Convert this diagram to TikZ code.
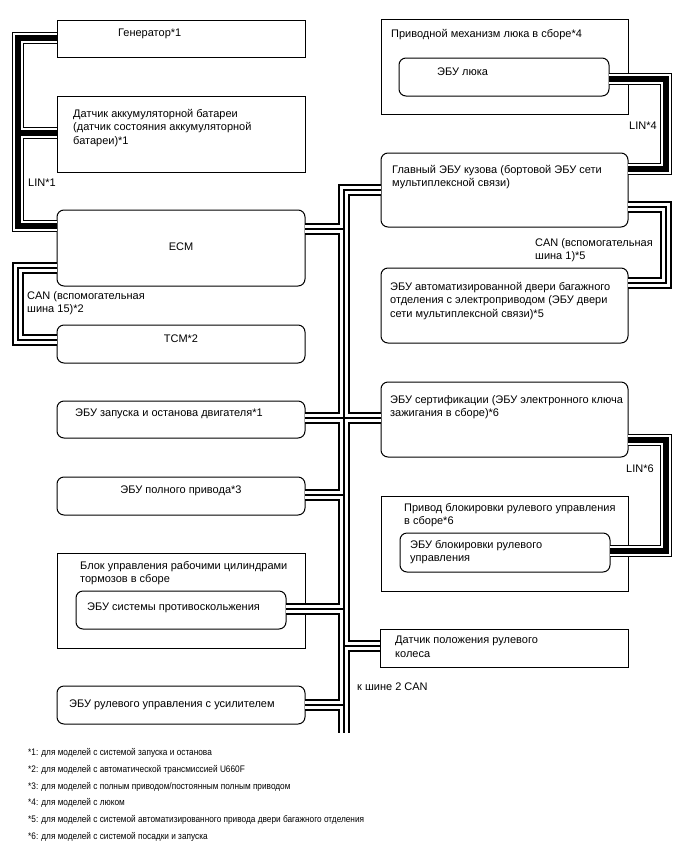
\documentclass[tikz,border=0pt]{standalone}
\usepackage{fontspec}
\setmainfont{Liberation Sans}
\newfontfamily\notefont[FakeStretch=0.87]{Liberation Sans}
\usetikzlibrary{positioning}

\tikzset{
  frame/.style={draw, line width=1pt, inner sep=0pt, outer sep=0pt,
                anchor=north west},
  unit/.style={frame, rounded corners=7pt},
  txt/.style={inner sep=0pt, align=left, anchor=north west,
              font=\fontsize{11}{13.5}\selectfont},
  can/.style={line width=12.5pt, line join=miter,
              postaction={draw=white, line width=8pt},
              postaction={draw=black, line width=1.3pt}},
  lin/.style={line width=12.5pt, line join=miter,
              postaction={draw=white, line width=10pt},
              postaction={draw=black, line width=6pt}}
}

\begin{document}
\begin{tikzpicture}[x=1pt, y=-1pt]
\useasboundingbox (0,0) rectangle (688,852);

% left column
\node[frame, minimum width=248pt, minimum height=37pt] (gen) at (57,20) {};
\node[txt, below right=9pt and 61pt of gen.north west] (gentxt) {Генератор*1};
\node[frame, minimum width=248pt, minimum height=76pt] (sensor) at (57,96) {};
\node[txt, below right=13pt and 16pt of sensor.north west] (sensortxt)
  {Датчик аккумуляторной батареи\\(датчик состояния аккумуляторной\\батареи)*1};
\node[unit, minimum width=248pt, minimum height=76pt] (ecm) at (57,210) {};
\node[txt, anchor=north, below=33pt of ecm.north] (ecmtxt) {ECM};
\node[unit, minimum width=248pt, minimum height=38pt] (tcm) at (57,325) {};
\node[txt, anchor=north, below=10pt of tcm.north] (tcmtxt) {TCM*2};
\node[unit, minimum width=248pt, minimum height=37pt] (stop) at (57,401) {};
\node[txt, below right=8pt and 18pt of stop.north west] (stoptxt)
  {ЭБУ запуска и останова двигателя*1};
\node[unit, minimum width=248pt, minimum height=38pt] (awd) at (57,477) {};
\node[txt, anchor=north, below=9pt of awd.north] (awdtxt) {ЭБУ полного привода*3};
\node[frame, minimum width=248pt, minimum height=95pt] (brake) at (57,553) {};
\node[txt, below right=8pt and 23pt of brake.north west] (braketxt)
  {Блок управления рабочими цилиндрами\\тормозов в сборе};
\node[unit, minimum width=210pt, minimum height=38pt] (vsc) at (76,591) {};
\node[txt, below right=12pt and 11pt of vsc.north west] (vsctxt)
  {ЭБУ системы противоскольжения};
\node[unit, minimum width=248pt, minimum height=38pt] (eps) at (57,686) {};
\node[txt, below right=14pt and 12pt of eps.north west] (epstxt)
  {ЭБУ рулевого управления с усилителем};

% right column
\node[frame, minimum width=247pt, minimum height=95pt] (roofassy) at (381,19) {};
\node[txt, below right=10pt and 10pt of roofassy.north west] (roofassytxt)
  {Приводной механизм люка в сборе*4};
\node[unit, minimum width=210pt, minimum height=38pt] (roof) at (399,58) {};
\node[txt, below right=10pt and 38pt of roof.north west] (rooftxt) {ЭБУ люка};
\node[unit, minimum width=247pt, minimum height=74pt] (mainbody) at (381,153) {};
\node[txt, below right=12pt and 11pt of mainbody.north west] (mainbodytxt)
  {Главный ЭБУ кузова (бортовой ЭБУ сети\\мультиплексной связи)};
\node[unit, minimum width=247pt, minimum height=75pt] (door) at (381,268) {};
\node[txt, below right=14pt and 9pt of door.north west] (doortxt)
  {ЭБУ автоматизированной двери багажного\\отделения с электроприводом (ЭБУ двери\\сети мультиплексной связи)*5};
\node[unit, minimum width=247pt, minimum height=75pt] (cert) at (381,382) {};
\node[txt, below right=13pt and 9pt of cert.north west] (certtxt)
  {ЭБУ сертификации (ЭБУ электронного ключа\\зажигания в сборе)*6};
\node[frame, minimum width=247pt, minimum height=95pt] (lockassy) at (381,496) {};
\node[txt, below right=7pt and 23pt of lockassy.north west] (lockassytxt)
  {Привод блокировки рулевого управления\\в сборе*6};
\node[unit, minimum width=210pt, minimum height=39pt] (lock) at (400,533) {};
\node[txt, below right=7pt and 10pt of lock.north west] (locktxt)
  {ЭБУ блокировки рулевого\\управления};
\node[frame, minimum width=248pt, minimum height=38pt] (angle) at (380,629) {};
\node[txt, below right=7pt and 15pt of angle.north west] (angletxt)
  {Датчик положения рулевого\\колеса};

% bus labels
\node[txt] (lin1) at (28,179) {LIN*1};
\node[txt] (can15) at (27,291) {CAN (вспомогательная\\шина 15)*2};
\node[txt] (lin4) at (629,122) {LIN*4};
\node[txt] (can5) at (535,238) {CAN (вспомогательная\\шина 1)*5};
\node[txt] (lin6) at (626,465) {LIN*6};
\node[txt] (bus2) at (357,683) {к шине 2 CAN};

% connectors
\coordinate (bustop) at (344,190);
\coordinate (busend) at (344,733);
\draw[lin] (gen.west |- 0,38) -| (18,226) -- (ecm.west |- 0,226)
           (18,133) -- (sensor.west |- 0,133);
\draw[can] (ecm.west |- 0,268) -| (18,340) -- (tcm.west |- 0,340);
\draw[can] (mainbody.west |- bustop) -- (bustop) -- (busend)
           (ecm.east |- 0,229) -- (bustop |- 0,229)
           (stop.east |- 0,418) -- (cert.west |- 0,418)
           (awd.east |- 0,495) -- (bustop |- 0,495)
           (vsc.east |- 0,609) -- (bustop |- 0,609)
           (angle.west |- 0,646) -- (bustop |- 0,646)
           (eps.east |- 0,705) -- (bustop |- 0,705);
\draw[lin] (roof.east |- 0,79) -| (666,169) -- (mainbody.east |- 0,169);
\draw[can] (mainbody.east |- 0,207) -| (666,283) -- (door.east |- 0,283);
\draw[lin] (cert.east |- 0,440) -| (666,551) -- (lock.east |- 0,551);

% notes
\node[txt, font=\notefont\fontsize{9.5}{16.9}\selectfont] (notes) at (28,748)
  {*1: для моделей с системой запуска и останова\\
   *2: для моделей с автоматической трансмиссией U660F\\
   *3: для моделей с полным приводом/постоянным полным приводом\\
   *4: для моделей с люком\\
   *5: для моделей с системой автоматизированного привода двери багажного отделения\\
   *6: для моделей с системой посадки и запуска};
\end{tikzpicture}
\end{document}
